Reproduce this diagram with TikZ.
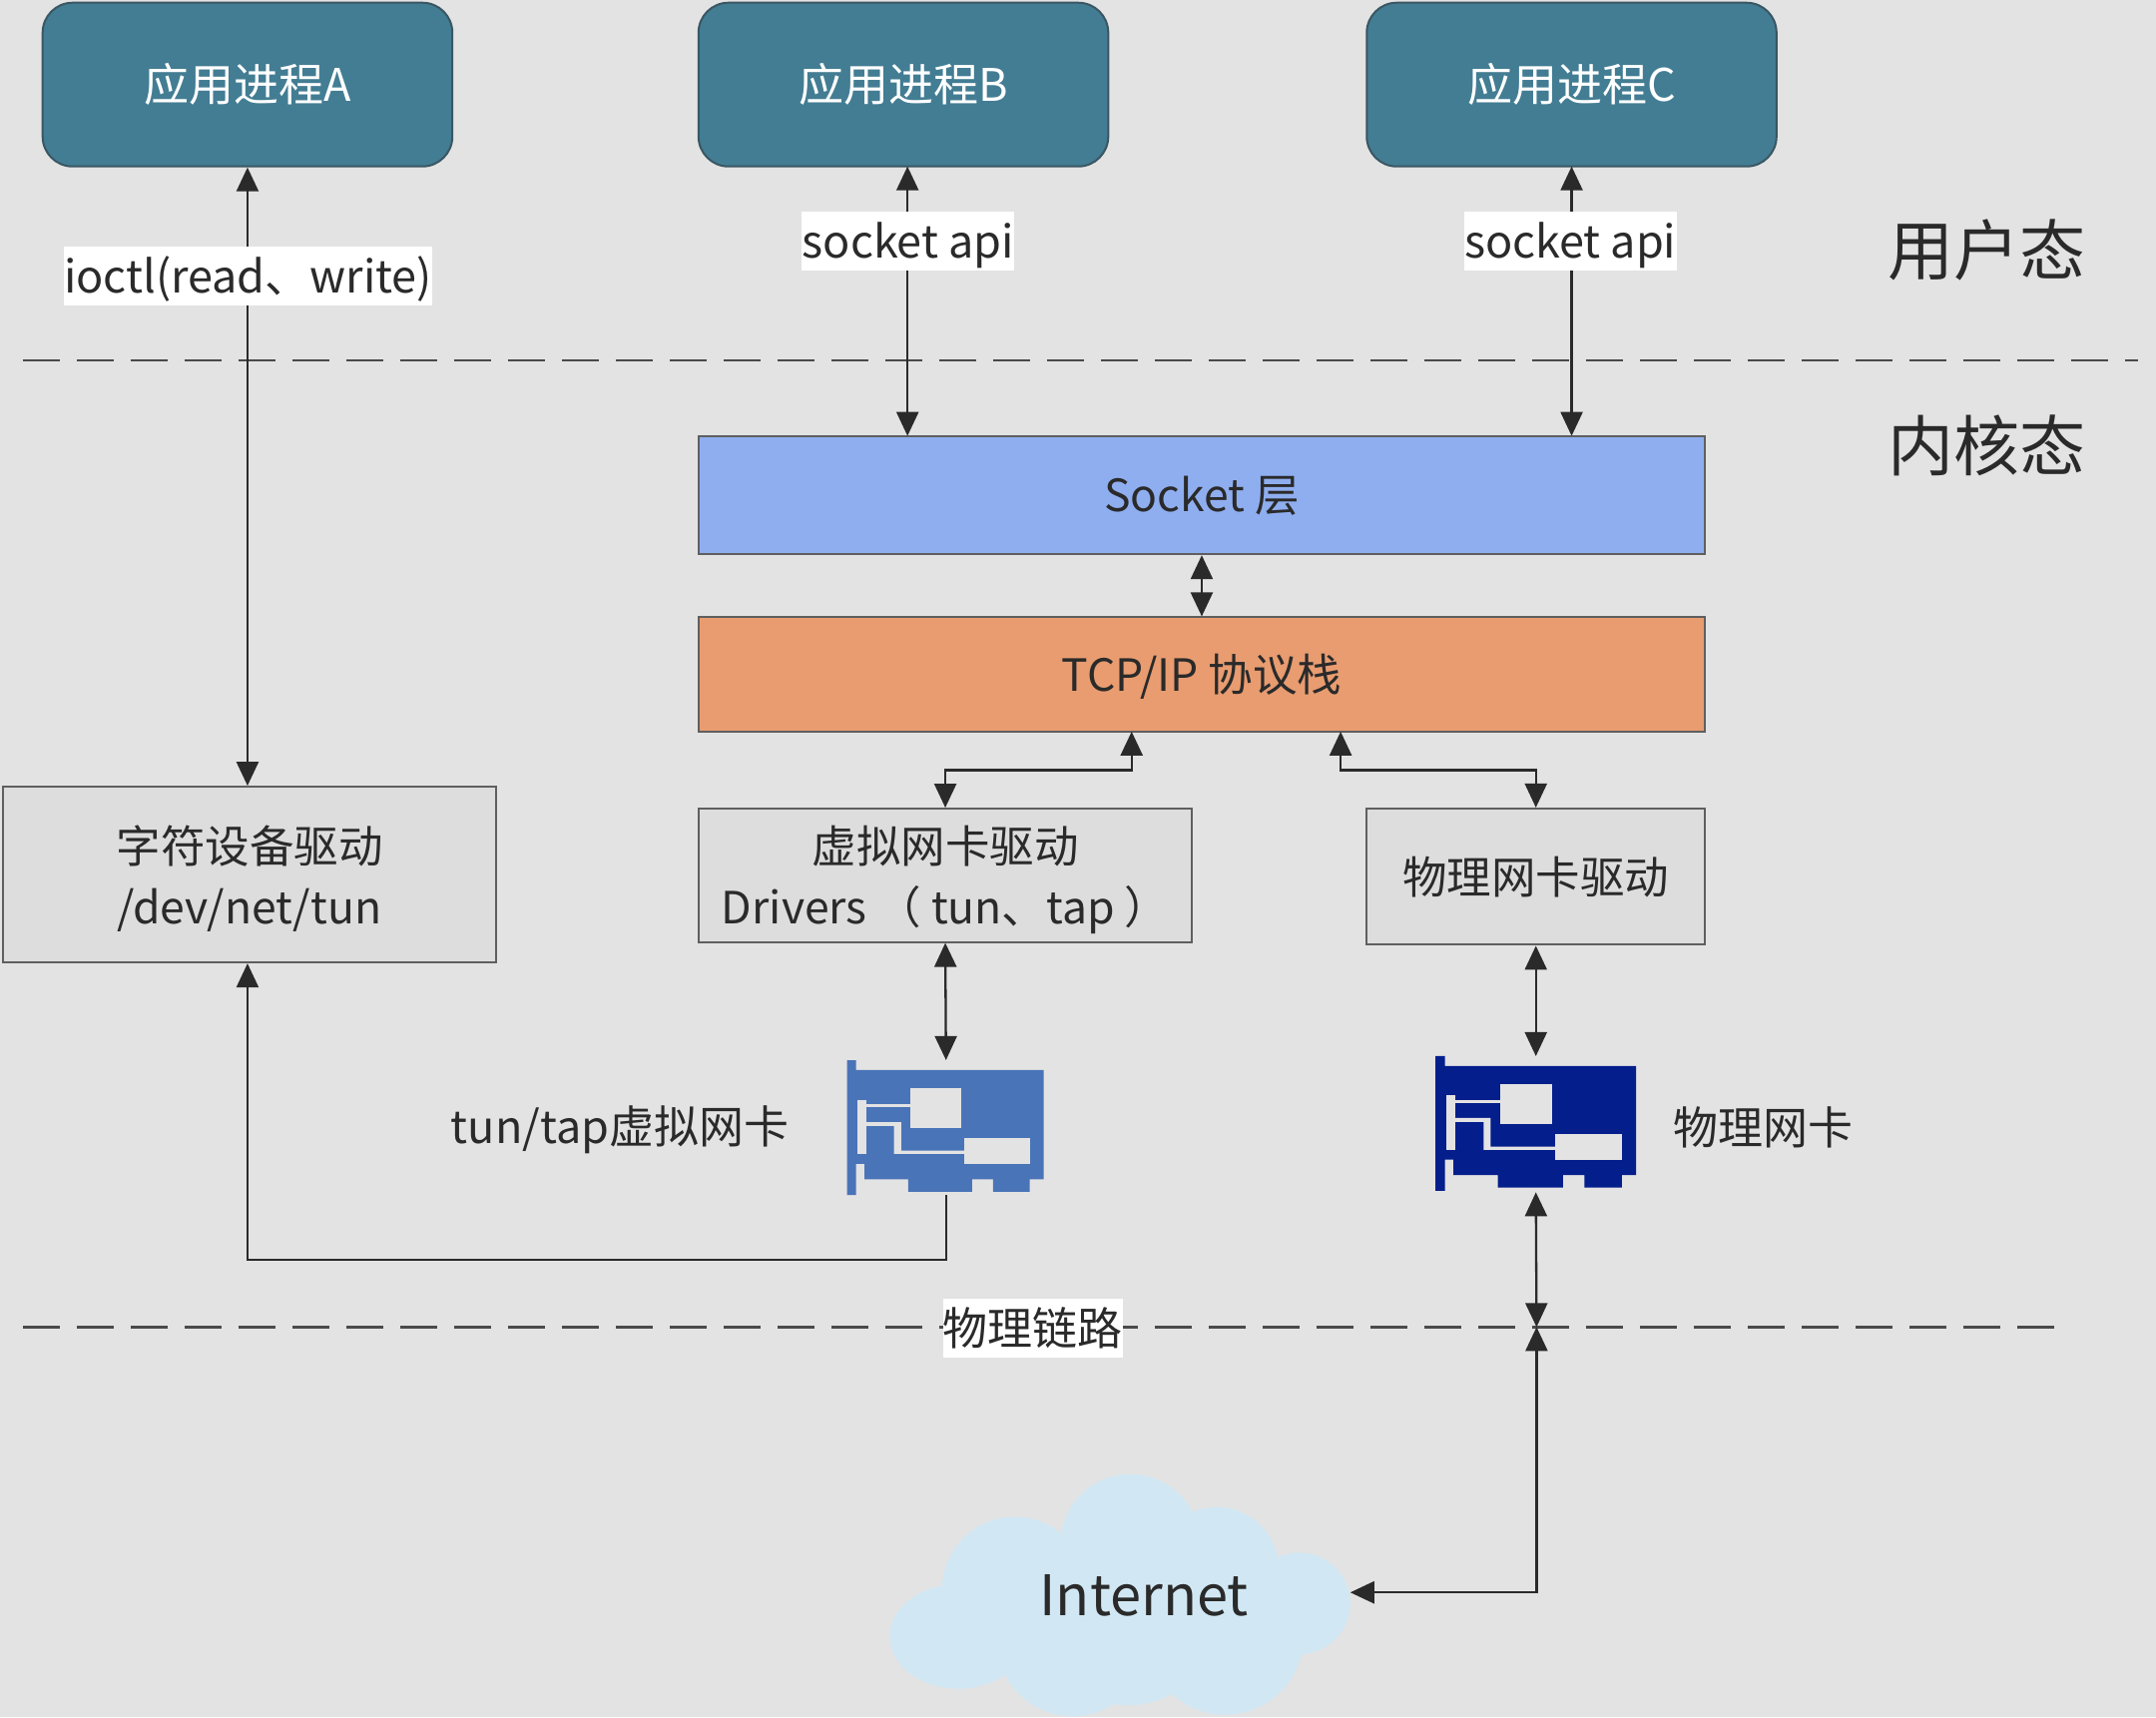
\documentclass[tikz,border=0pt]{standalone}
\usepackage{fontspec}
\setmainfont{Noto Sans CJK SC}
\usetikzlibrary{arrows.meta}
\definecolor{bg}{HTML}{E3E3E3}
\definecolor{teal}{HTML}{437D93}
\definecolor{tealb}{HTML}{3A5663}
\definecolor{sock}{HTML}{8FAEF0}
\definecolor{tcpc}{HTML}{E89C70}
\definecolor{drv}{HTML}{DDDDDD}
\definecolor{ink}{HTML}{2A2A2A}
\definecolor{cardv}{HTML}{4A74B8}
\definecolor{cardp}{HTML}{041E8C}
\definecolor{cloudc}{HTML}{D1E8F4}
\tikzset{
  x=1.37755pt,y=-1.37755pt,
  mono/.style={text height=42pt,text depth=8pt},
  appbox/.style={mono,draw=tealb,line width=2pt,fill=teal,rounded corners=30pt,text=white,font=\fontsize{45}{54}\selectfont,inner sep=0pt,minimum width=410.5pt,minimum height=164pt},
  layerbox/.style={draw=ink!75,line width=2pt,text=ink,font=\fontsize{44.5}{60.6}\selectfont,inner sep=0pt},
  twolines/.style={align=center},
  link/.style={draw=ink,line width=2.3pt},
  bi/.style={link,{Triangle[length=24pt,width=22pt]}-{Triangle[length=24pt,width=22pt]}},
  one/.style={link,-{Triangle[length=24pt,width=22pt]}},
  sep/.style={draw=ink!85,line width=2.4pt,dash pattern=on 37pt off 17pt},
  tag/.style={mono,fill=white,text=ink,font=\fontsize{45}{54}\selectfont,inner sep=0pt,minimum height=59pt},
  plain/.style={mono,text=ink,inner sep=0pt,font=\fontsize{45}{54}\selectfont},
  big/.style={text=ink,inner sep=0pt,font=\fontsize{66}{78}\selectfont},
}
\newcommand\netcard[4]{%
  \begin{scope}[shift={(#1,#2)}]
  \begin{scope}[x=#3*0.7036pt,y=-0.3293pt,shift={(-70,-125)}]
    \fill[#4] (70,125) -- (83,125) -- (83,155) -- (350,155) -- (350,487) -- (330,487) -- (330,525)
      -- (278,525) -- (278,487) -- (248,487) -- (248,525) -- (157,525) -- (157,487) -- (95,487)
      -- (95,440) -- (83,440) -- (83,535) -- (70,535) -- cycle;
    \fill[bg] (85,245) rectangle (97,410);
    \fill[bg] (160,210) rectangle (233,332);
    \fill[bg] (237,363) rectangle (330,440);
    \fill[bg] (97,258) rectangle (160,268);
    \fill[bg] (97,313) -- (147,313) -- (147,400) -- (237,400) -- (237,410) -- (137,410) -- (137,325) -- (97,325) -- cycle;
  \end{scope}
  \end{scope}}
\begin{document}
\begin{tikzpicture}
\fill[bg] (0,0) rectangle (1568,1248.6);
\useasboundingbox (0,0) rectangle (1568,1248.6);

% cloud
\begin{scope}[cloudc]
  \fill (822,1123) circle (51);
  \fill (738,1156) circle (53);
  \fill (697,1190) ellipse (50 and 38);
  \fill (780,1193) circle (55);
  \fill (891,1190) circle (57);
  \fill (885,1141) circle (45);
  \fill (945,1166) circle (37);
  \fill (820,1170) circle (70);
\end{scope}
\node[inner sep=0pt,text=ink,font=\fontsize{56}{66}\selectfont] (inet) at (832,1160) {Internet};
\coordinate (cloudr) at (982,1158);

% boxes
\node[appbox] (appa) at (180,61.5) {应用进程A};
\node[appbox] (appb) at (657,61.5) {应用进程B};
\node[appbox] (appc) at (1143,61.5) {应用进程C};

\node[layerbox,mono,fill=sock,minimum width=1008pt,minimum height=118.5pt] (sockl) at (874,360) {Socket 层};
\node[layerbox,mono,fill=tcpc,minimum width=1008pt,minimum height=114.5pt] (tcp) at (874,490.5) {TCP/IP 协议栈};
\node[layerbox,twolines,fill=drv,minimum width=494.5pt,minimum height=176pt] (chr) at (181.5,636) {\rule{0pt}{46pt}字符设备驱动\\/dev/net/tun};
\node[layerbox,twolines,fill=drv,minimum width=494.5pt,minimum height=133.5pt] (vdr) at (687.5,636.5) {\rule{0pt}{46pt}虚拟网卡驱动\\Drivers （ tun、tap ）};
\node[layerbox,mono,fill=drv,minimum width=339pt,minimum height=136.5pt] (pdr) at (1117,637.5) {物理网卡驱动};

% network cards
\netcard{616}{771}{1}{cardv}
\netcard{1044}{768}{1.02}{cardp}
\node[inner sep=0pt,minimum width=197pt,minimum height=135pt] (vcard) at (688,820) {};
\node[inner sep=0pt,minimum width=201pt,minimum height=136pt] (pcard) at (1117,817.5) {};

% anchors
\coordinate (tcpl) at (823,532);
\coordinate (tcpr) at (975,532);
\coordinate (phys) at (1117.5,965);
\coordinate (socb) at (660,317);
\coordinate (socc) at (1143,317);
\coordinate (appbb) at (660,121);
\coordinate (appcb) at (1143,121);

% separators
\coordinate (s1a) at (17,262);
\coordinate (s1b) at (1555,262);
\coordinate (s2a) at (17,965);
\coordinate (s2b) at (1497,965);
\draw[sep] (s1a) -- (s1b);
\draw[sep] (s2a) -- (s2b);

% connectors
\draw[bi] (appa.south) -- (appa.south |- chr.north);
\draw[bi] (appbb) -- (socb);
\draw[bi] (appcb) -- (socc);
\draw[bi] (sockl.south) -- (tcp.north);
\draw[bi] (tcpl) -- (823,560) -| (vdr.north);
\draw[bi] (tcpr) -- (975,560) -| (pdr.north);
\draw[bi] (vdr.south) -- (vcard.north);
\draw[bi] (pdr.south) -- (pcard.north);
\draw[one] (vcard.south) |- (180,916) -- (chr.south -| appa.south);
\draw[bi] (pcard.south) -- (phys);
\draw[bi] (phys) |- (cloudr);

% labels
\node[tag,minimum width=365pt] (lioctl) at (180.5,200.5) {ioctl(read、write)};
\node[tag,minimum width=213pt] (lsb) at (660.5,175.5) {socket api};
\node[tag,minimum width=213pt] (lsc) at (1142,175.5) {socket api};
\node[tag,minimum width=179pt] (lphy) at (751,965.5) {物理链路};
\node[plain] (lv) at (451,819) {tun/tap虚拟网卡};
\node[plain] (lp) at (1282,820) {物理网卡};
\node[big] (lu) at (1445,182) {用户态};
\node[big] (lk) at (1445,324) {内核态};
\end{tikzpicture}
\end{document}
